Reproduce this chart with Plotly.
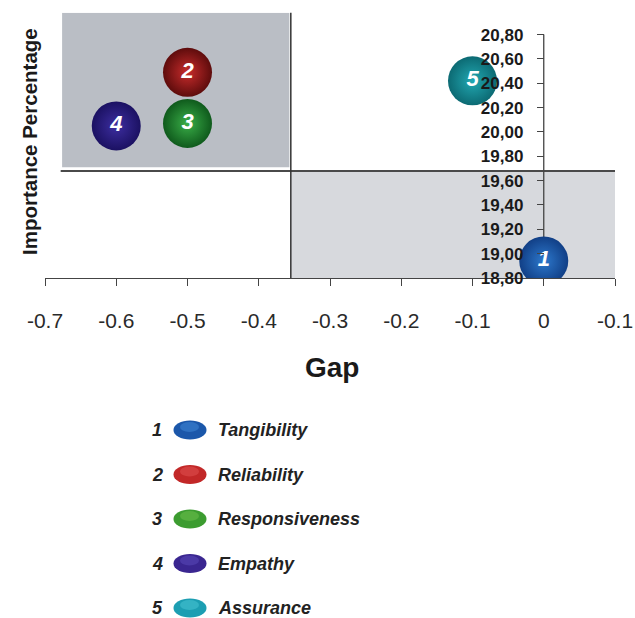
import plotly.graph_objects as go

# ---- data -------------------------------------------------------------
dimension_ids = [1, 2, 3, 4, 5]
dimension_names = ["Tangibility", "Reliability", "Responsiveness", "Empathy", "Assurance"]
gap_values = [0.0, -0.5, -0.5, -0.6, -0.1]
importance_values = [18.94, 20.49, 20.07, 20.05, 20.42]

x_tick_values = [-0.7, -0.6, -0.5, -0.4, -0.3, -0.2, -0.1, 0.0, 0.1]
x_tick_labels = ["-0.7", "-0.6", "-0.5", "-0.4", "-0.3", "-0.2", "-0.1", "0", "-0.1"]
y_tick_values = [18.8, 19.0, 19.2, 19.4, 19.6, 19.8, 20.0, 20.2, 20.4, 20.6, 20.8]

# quadrant split lines
gap_split = -0.355
importance_split = 19.68

# ---- styling ----------------------------------------------------------
W, H = 635, 618
edge_colors = ["#113f86", "#5e0c0c", "#0f5a1c", "#1b1162", "#0c6a73"]
core_colors = ["#2d78cc", "#c82c2c", "#3aae48", "#3d2ea0", "#22a8b2"]
legend_colors = ["#1b57aa", "#c22828", "#3c9c30", "#3a2690", "#1c9eb2"]
legend_light = ["#3f86d6", "#e05050", "#6cc04c", "#5a48b8", "#48c4d4"]

SANS = "Liberation Sans, Arial, sans-serif"

x_min, x_max = -0.7, 0.1
y_min, y_max = 18.8, 20.98
x_dom = [45 / W, 615 / W]
y_dom = [1 - 278 / H, 1 - 12.7 / H]

# the value axis crosses the gap axis at gap = 0
y_axis_pos = x_dom[0] + (0 - x_min) / (x_max - x_min) * (x_dom[1] - x_dom[0])


def px(x):
    return x / W


def py(y):
    return 1 - y / H


fig = go.Figure()

fig.add_trace(go.Scatter(
    x=gap_values,
    y=importance_values,
    mode="markers+text",
    text=[str(i) for i in dimension_ids],
    textposition="middle center",
    textfont=dict(family=SANS, size=22, color="white", weight="bold", style="italic"),
    marker=dict(
        size=49,
        color=edge_colors,
        gradient=dict(type="radial", color=core_colors),
        line=dict(width=0),
    ),
    hovertext=dimension_names,
    showlegend=False,
))

shapes = []
# shaded quadrants
shapes.append(dict(type="rect", xref="x", yref="y", x0=-0.676, x1=gap_split - 0.002,
                   y0=importance_split + 0.03, y1=y_max, fillcolor="#babec5",
                   line=dict(width=0), layer="below"))
shapes.append(dict(type="rect", xref="x", yref="y", x0=gap_split, x1=x_max,
                   y0=y_min, y1=importance_split, fillcolor="#d7d9dd",
                   line=dict(width=0), layer="below"))
# quadrant split lines
shapes.append(dict(type="line", xref="x", yref="y", x0=-0.678, x1=x_max,
                   y0=importance_split, y1=importance_split,
                   line=dict(color="#4a4a4a", width=2), layer="below"))
shapes.append(dict(type="line", xref="x", yref="y", x0=gap_split, x1=gap_split,
                   y0=y_min, y1=y_max + 0.02,
                   line=dict(color="#333333", width=1.5), layer="below"))
# value axis line (crossing at gap = 0)
shapes.append(dict(type="line", xref="x", yref="y", x0=0, x1=0,
                   y0=y_min, y1=y_tick_values[-1],
                   line=dict(color="#444444", width=1.3), layer="below"))

annotations = [
    dict(text="Gap", x=px(332), y=py(367), xref="paper", yref="paper",
         xanchor="center", yanchor="middle", showarrow=False,
         font=dict(family=SANS, size=28, color="#1a1a1a", weight="bold")),
    dict(text="Importance Percentage", x=px(29), y=py(142), xref="paper", yref="paper",
         xanchor="center", yanchor="middle", showarrow=False, textangle=-90,
         font=dict(family=SANS, size=20.5, color="#1a1a1a", weight="bold")),
]

# key below the chart
row0, row_step = 430, 44.5
for i, (num, name) in enumerate(zip(dimension_ids, dimension_names)):
    yc = row0 + i * row_step
    annotations.append(dict(text=str(num), x=px(157), y=py(yc), xref="paper", yref="paper",
                            showarrow=False, xanchor="center", yanchor="middle",
                            font=dict(family=SANS, size=18, color="#222222",
                                      weight="bold", style="italic")))
    annotations.append(dict(text=name, x=px(216), y=py(yc), xref="paper", yref="paper",
                            showarrow=False, xanchor="left", yanchor="middle",
                            font=dict(family=SANS, size=18, color="#222222",
                                      weight="bold", style="italic")))
    shapes.append(dict(type="circle", xref="paper", yref="paper",
                       x0=px(190 - 16.5), x1=px(190 + 16.5),
                       y0=py(yc + 9.5), y1=py(yc - 9.5),
                       fillcolor=legend_colors[i], line=dict(width=0)))
    shapes.append(dict(type="circle", xref="paper", yref="paper",
                       x0=px(190 - 10), x1=px(190 + 9),
                       y0=py(yc + 2), y1=py(yc - 8),
                       fillcolor=legend_light[i], opacity=0.55, line=dict(width=0)))

fig.update_layout(
    width=W, height=H,
    margin=dict(l=0, r=0, t=0, b=0, autoexpand=False),
    paper_bgcolor="white", plot_bgcolor="white",
    separators=",.",
    showlegend=False,
    shapes=shapes,
    annotations=annotations,
    xaxis=dict(
        domain=x_dom, range=[x_min, x_max], automargin=False,
        tickmode="array", tickvals=x_tick_values, ticktext=x_tick_labels,
        ticks="outside", ticklen=7, tickcolor="#444444", tickwidth=1.2,
        showline=True, linecolor="#444444", linewidth=1.3,
        showgrid=False, zeroline=False,
        ticklabelstandoff=17,
        tickfont=dict(family=SANS, size=21, color="#2a2a2a"),
        anchor="y",
    ),
    yaxis=dict(
        domain=y_dom, range=[y_min, y_max], automargin=False,
        anchor="free", position=y_axis_pos,
        tickmode="array", tickvals=y_tick_values, tickformat=".2f",
        ticks="outside", ticklen=7, tickcolor="#444444", tickwidth=1.2,
        showline=False, showgrid=False, zeroline=False,
        ticklabelstandoff=10,
        tickfont=dict(family=SANS, size=17, color="#1a1a1a", weight="bold"),
    ),
)

fig.write_html("out.html")
